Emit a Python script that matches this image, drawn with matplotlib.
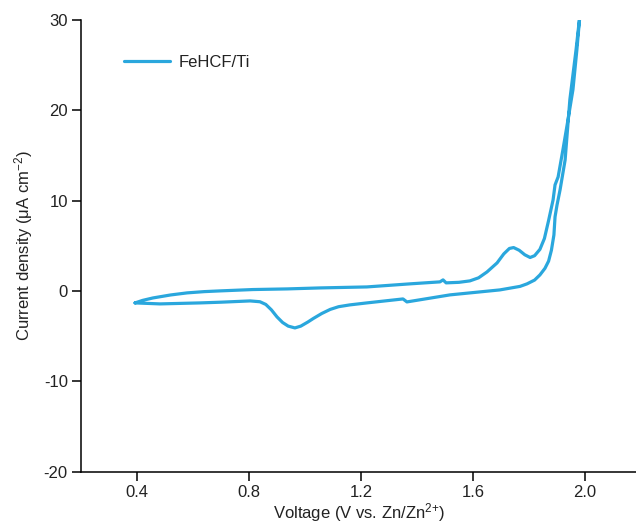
import matplotlib
matplotlib.use("Agg")
import matplotlib.pyplot as plt

plt.rcParams['font.family'] = ['Liberation Sans', 'DejaVu Sans']
plt.rcParams['mathtext.fontset'] = 'custom'
plt.rcParams['mathtext.rm'] = 'Liberation Sans'
plt.rcParams['mathtext.it'] = 'Liberation Sans:italic'
plt.rcParams['mathtext.default'] = 'regular'

# Anodic (upper) sweep: voltage (V) and current density (uA cm^-2)
anodic_v = [0.393, 0.42, 0.457, 0.52, 0.579, 0.64, 0.696, 0.814, 0.936, 1.054,
            1.221, 1.375, 1.482, 1.493, 1.504, 1.55, 1.589, 1.62, 1.65, 1.686,
            1.71, 1.73, 1.745, 1.765, 1.785, 1.804, 1.82, 1.839, 1.855, 1.87,
            1.886, 1.893, 1.904, 1.921, 1.939, 1.957, 1.971, 1.982]
anodic_i = [-1.33, -1.05, -0.78, -0.45, -0.22, -0.08, 0.0, 0.15, 0.22, 0.33,
            0.44, 0.78, 1.0, 1.22, 0.89, 0.95, 1.11, 1.45, 2.1, 3.1,
            4.1, 4.7, 4.8, 4.5, 4.0, 3.7, 3.9, 4.6, 5.8, 7.8,
            10.08, 11.74, 12.62, 15.6, 18.9, 22.3, 26.7, 30.6]

# Cathodic (return) sweep
cathodic_v = [1.982, 1.968, 1.946, 1.929, 1.911, 1.9, 1.893, 1.889, 1.88, 1.87,
              1.857, 1.839, 1.82, 1.793, 1.768, 1.696, 1.625, 1.518, 1.364, 1.35,
              1.221, 1.16, 1.12, 1.09, 1.06, 1.03, 1.01, 0.985, 0.964, 0.94, 0.92,
              0.9, 0.88, 0.86, 0.839, 0.804, 0.7, 0.625, 0.482, 0.393]
cathodic_i = [30.6, 26.7, 21.2, 14.5, 11.2, 9.5, 8.2, 6.2, 4.5, 3.3,
              2.5, 1.77, 1.2, 0.78, 0.5, 0.11, -0.11, -0.44, -1.22, -0.89,
              -1.33, -1.55, -1.75, -2.05, -2.5, -3.05, -3.45, -3.9, -4.1, -3.9, -3.5,
              -2.88, -2.1, -1.5, -1.2, -1.11, -1.25, -1.33, -1.44, -1.33]

x_ticks = [0.4, 0.8, 1.2, 1.6, 2.0]
x_tick_labels = ['0.4', '0.8', '1.2', '1.6', '2.0']
y_ticks = [-20, -10, 0, 10, 20, 30]
y_tick_labels = ['-20', '-10', '0', '10', '20', '30']
series_label = 'FeHCF/Ti'

color = '#2aa7dd'

fig = plt.figure(figsize=(6.36, 5.29), dpi=100)
ax = fig.add_axes([81/636, 1 - 471.5/529, (636 - 81)/636, (471.5 - 20)/529])

v = anodic_v + cathodic_v
i = anodic_i + cathodic_i
ax.plot(v, i, color=color, lw=2.3, solid_joinstyle='round', solid_capstyle='round',
        label=series_label)

ax.set_xlim(0.2, 0.2 + (636 - 81)/280)
ax.set_ylim(-20, 30)
ax.set_xticks(x_ticks)
ax.set_xticklabels(x_tick_labels)
ax.set_yticks(y_ticks)
ax.set_yticklabels(y_tick_labels)

for s in ['top', 'right']:
    ax.spines[s].set_visible(False)
for s in ['left', 'bottom']:
    ax.spines[s].set_linewidth(1.1)
    ax.spines[s].set_color('black')

ax.tick_params(direction='out', length=6.5, width=1.1, labelsize=12, pad=3, colors='black')
for lab in ax.get_xticklabels() + ax.get_yticklabels():
    lab.set_color('#222222')

ax.set_xlabel('Voltage (V vs. Zn/Zn$^{2{+}}$)', fontsize=12, labelpad=1, color='#222222')
ax.set_ylabel('Current density (μA cm$^{-2}$)', fontsize=12, labelpad=6, color='#222222')

leg = ax.legend(loc='upper left', bbox_to_anchor=(0.05, 0.955), frameon=False,
                fontsize=12, handlelength=2.8, handletextpad=0.5)
for t in leg.get_texts():
    t.set_color('#222222')

fig.savefig('out.png', dpi=100)
